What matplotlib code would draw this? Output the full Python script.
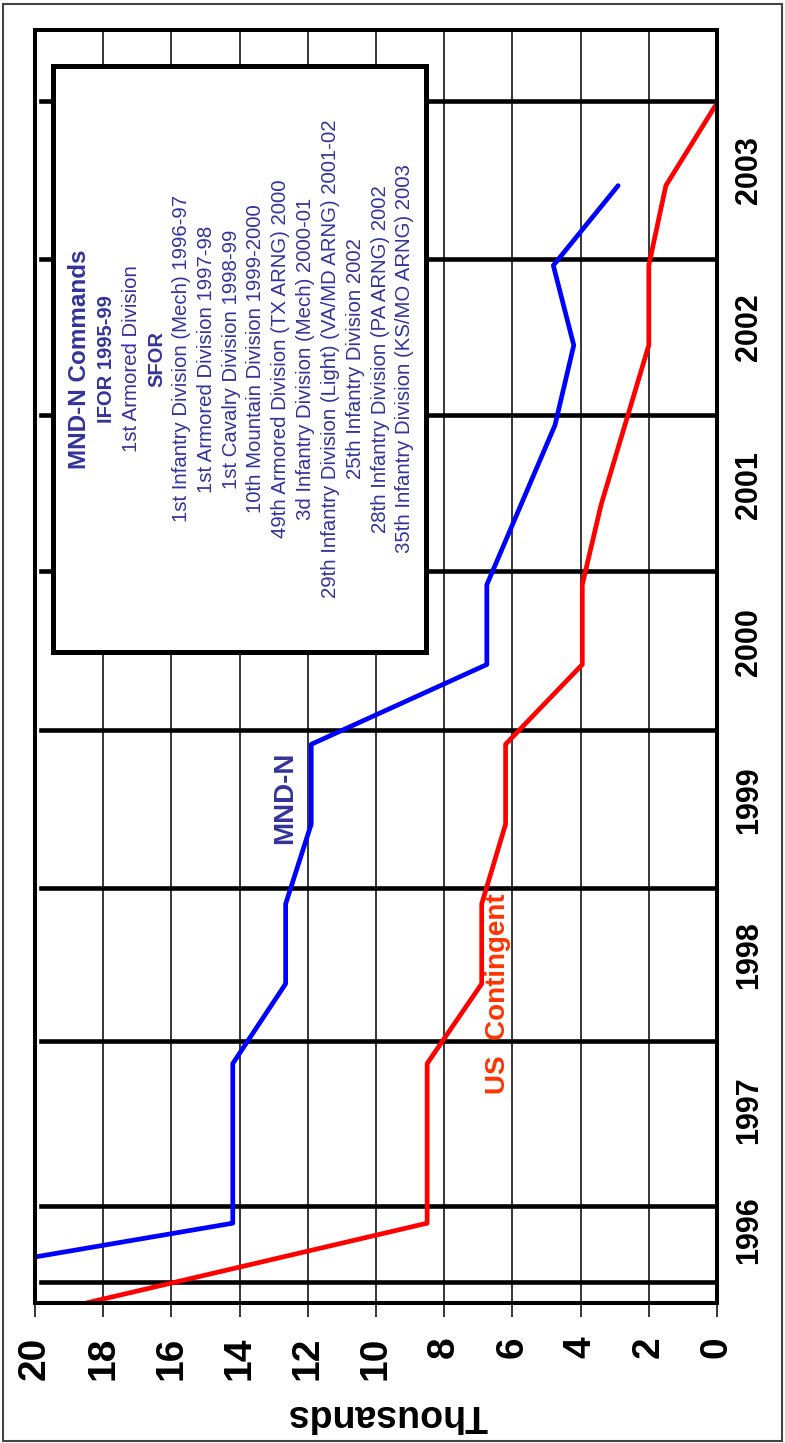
import matplotlib
matplotlib.use("Agg")
import matplotlib.pyplot as plt
from matplotlib.patches import Rectangle
from matplotlib import font_manager

# half-year reporting points (0 = first IFOR report)
periods = list(range(16))
us_contingent = [18.5, 8.5, 8.5, 8.5, 6.9, 6.9, 6.2, 6.2, 3.95, 3.95, 3.4, 2.7, 2.0, 2.0, 1.5, 0.05]
mnd_n = [27.9, 14.2, 14.2, 14.2, 12.65, 12.65, 11.9, 11.9, 6.75, 6.75, 5.75, 4.75, 4.2, 4.8, 2.9]

year_labels = ["1996", "1997", "1998", "1999", "2000", "2001", "2002", "2003"]
year_pos = [0.91, 2.42, 4.36, 6.3, 8.28, 10.25, 12.23, 14.2]
year_lines = [0.26, 1.22, 3.28, 5.2, 7.18, 9.17, 11.12, 13.08, 15.06]
thousand_ticks = list(range(0, 21, 2))

legend_lines = [
    ("MND-N Commands", "bold", 17.5),
    ("IFOR 1995-99", "bold", 14.5),
    ("1st Armored Division", "normal", 14.7),
    ("SFOR", "bold", 14.5),
    ("1st Infantry Division (Mech) 1996-97", "normal", 14.7),
    ("1st Armored Division 1997-98", "normal", 14.7),
    ("1st Cavalry Division 1998-99", "normal", 14.7),
    ("10th Mountain Division 1999-2000", "normal", 14.7),
    ("49th Armored Division (TX ARNG) 2000", "normal", 14.7),
    ("3d Infantry Division (Mech) 2000-01", "normal", 14.7),
    ("29th Infantry Division (Light) (VA/MD ARNG) 2001-02", "normal", 14.7),
    ("25th Infantry Division 2002", "normal", 14.7),
    ("28th Infantry Division (PA ARNG) 2002", "normal", 14.7),
    ("35th Infantry Division (KS/MO ARNG) 2003", "normal", 14.7),
]

plt.rcParams['font.family'] = ['Liberation Sans', 'DejaVu Sans']
names = {f.name for f in font_manager.fontManager.ttflist}
if 'Liberation Sans Narrow' in names:
    narrow, year_size = 'Liberation Sans Narrow', 27
else:
    narrow, year_size = 'Liberation Sans', 22

W, H = 785, 1443
fig = plt.figure(figsize=(W / 100, H / 100), dpi=100)

def px(x, y):
    return x / W, 1 - y / H

ax = fig.add_axes([35 / W, 1 - 1303 / H, 682 / W, 1273 / H])
ax.set_xlim(20, 0)
ax.set_ylim(0, 15.95)

ax.grid(axis='x', color='black', lw=1.1, zorder=1)
ax.grid(axis='y', visible=False)
for yl in year_lines:
    ax.axhline(yl, xmin=6 / 682, xmax=1, color='black', lw=3.3, zorder=2)

ax.plot(us_contingent, periods, color='#FF0000', lw=3.4, zorder=3,
        solid_joinstyle='round', solid_capstyle='round')
ax.plot(mnd_n, periods[:len(mnd_n)], color='#0000FF', lw=3.4, zorder=3,
        solid_joinstyle='round', solid_capstyle='round')

for s in ax.spines.values():
    s.set_linewidth(2.9)
    s.set_color('black')
    s.set_zorder(6)

ax.set_xticks(thousand_ticks)
ax.set_xticklabels([str(t) for t in thousand_ticks], rotation=90,
                   fontsize=28, fontweight='bold')
ax.tick_params(axis='x', length=10, width=1.1, pad=14, direction='out')

ax.yaxis.tick_right()
ax.set_yticks(year_pos)
ax.set_yticklabels(year_labels, rotation=90, va='center', fontsize=year_size,
                   fontweight='bold', family=[narrow, 'Liberation Sans'])
ax.tick_params(axis='y', length=0, pad=12)

# commands box
bx0, by0 = px(52.5, 652.5)
bx1, by1 = px(425.5, 65.5)
ax.add_patch(Rectangle((bx0, by0), bx1 - bx0, by1 - by0, transform=fig.transFigure,
                       facecolor='white', edgecolor='black', lw=3.6, zorder=5,
                       clip_on=False))
for i, (txt, weight, size) in enumerate(legend_lines):
    x = 79 if i == 0 else 107 + 24.83 * (i - 1)
    fig.text(*px(x, 359), txt, rotation=90, ha='center', va='center',
             color='#333399', fontsize=size, fontweight=weight, zorder=7)

fig.text(*px(285, 798), "MND-N", rotation=90, ha='center', va='center',
         color='#333399', fontsize=20, fontweight='bold')
fig.text(*px(498, 994), "US  Contingent", rotation=90, ha='center', va='center',
         color='#FF3300', fontsize=20, fontweight='bold')
fig.text(*px(388, 1415), "Thousands", rotation=180, ha='center', va='center',
         fontsize=27, fontweight='bold')

fig.add_artist(Rectangle((2.5 / W, 2.5 / H), 779 / W, 1437 / H, transform=fig.transFigure,
                         fill=False, edgecolor='#444444', lw=1.5))

fig.savefig("out.png", dpi=100)
